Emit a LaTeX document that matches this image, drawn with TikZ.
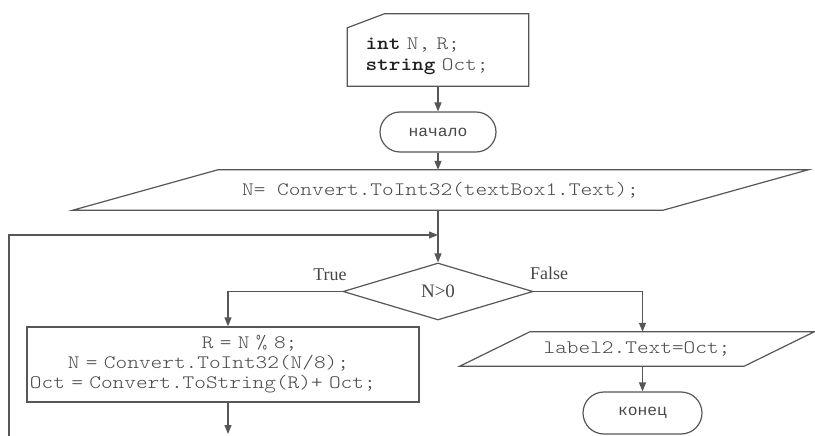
\documentclass[tikz,border=0pt]{standalone}
\usepackage{fontspec}
\setmainfont{Liberation Serif}
% thin slab-serif typewriter for the code, Liberation Mono for Cyrillic words
\newfontfamily\codefont{lmmonolt10-regular.otf}[FakeStretch=1.17, BoldFont=lmmonolt10-bold.otf]
\newfontfamily\cyrmono{Liberation Mono}[FakeStretch=1.05]
% make an interword space exactly one character wide
\newcommand\fullspace{\fontdimen2\font=\fontcharwd\font`\x\relax
  \fontdimen3\font=0pt\fontdimen4\font=0pt\relax}
\usetikzlibrary{arrows.meta,calc,shapes.geometric,shapes.misc}

\begin{document}
\begin{tikzpicture}[x=1pt,y=-1pt,
  every node/.style={text=black!72},
  flow/.style={draw=black!66, line width=1.2pt},
  arr/.style={flow, -{Triangle[length=9pt,width=7pt]}},
  code/.style={font=\fontsize{19}{21}\selectfont\codefont\fullspace},
  codesmall/.style={font=\fontsize{15.5}{18}\selectfont\cyrmono},
  serif/.style={font=\fontsize{18}{20}\selectfont\rmfamily},
  term/.style={rounded rectangle, flow, codesmall, minimum width=116, minimum height=40, inner sep=0},
  frame/.style={inner sep=0, code}
]
% page
\useasboundingbox (0,0) rectangle (815,436);
\fill[white] (0,0) rectangle (815,436);

% declarations (card with a cut corner)
\node[frame, minimum width=181, minimum height=60, text width=145, align=left] (decl) at (438,56)
  {{\bfseries\color{black!88}int} N, R;\\{\bfseries\color{black!88}string} Oct;};
\draw[flow] ($(decl.north west)+(0,2)$) -- ($(decl.north west)+(37,-12)$)
  -- ($(decl.north east)+(0,-12)$) -- (decl.south east) -- (decl.south west) -- cycle;

% start
\node[term] (start) at (438,132) {начало};

% input
\node[frame, minimum width=590, minimum height=40] (inp1) at (440.5,190)
  {N= Convert.ToInt32(textBox1.Text);};
\draw[flow] ($(inp1.north west)+(72.5,0)$) -- ($(inp1.north east)+(72.5,0)$)
  -- ($(inp1.south east)+(-72.5,0)$) -- ($(inp1.south west)+(-72.5,0)$) -- cycle;

% condition
\node[diamond, flow, minimum width=190, minimum height=57, inner sep=0,
  font=\fontsize{19}{20}\selectfont\rmfamily] (dec) at (438,291.5) {N>0};
\node[serif] (ltrue) at (330,275) {True};
\node[serif] (lfalse) at (549,273) {False};

% loop body
\node[frame, flow, minimum width=392, minimum height=75, text width=386, align=left,
  font=\fontsize{19}{20}\selectfont\codefont\fullspace] (proc) at (223,364.5)
  {\hspace*{172pt}R = N \% 8;\\\hspace*{38pt}N = Convert.ToInt32(N/8);\\Oct = Convert.ToString(R)+ Oct;};

% output
\node[frame, minimum width=284, minimum height=34] (out1) at (637,349) {label2.Text=Oct;};
\draw[flow] ($(out1.north west)+(35,0)$) -- ($(out1.north east)+(35,0)$)
  -- ($(out1.south east)+(-35,0)$) -- ($(out1.south west)+(-35,0)$) -- cycle;

% end
\node[term, minimum width=119, minimum height=42] (endn) at (642.5,413) {конец};

% connectors
\coordinate (merge) at (438,235);
\coordinate (loopin) at (9,440);
\coordinate (procout) at (228,434);
\draw[arr] (decl.south) -- (start.north);
\draw[arr] (start.south) -- (start.south |- inp1.north);
\draw[arr] (dec.north |- inp1.south) -- (dec.north);
\draw[arr] (loopin) |- (merge);
\draw[arr] (dec.west) -| ([xshift=5pt]proc.north);
\draw[arr] (dec.east) -| (endn.north |- out1.north);
\draw[arr] (endn.north |- out1.south) -- (endn.north);
\draw[arr] ([xshift=5pt]proc.south) -- (procout);
\end{tikzpicture}
\end{document}
